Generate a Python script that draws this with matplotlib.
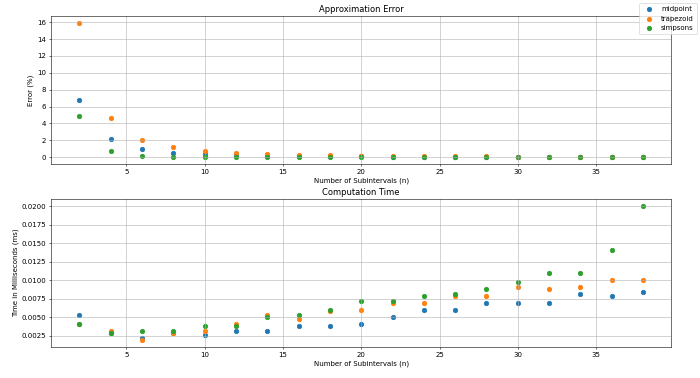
import matplotlib
import matplotlib.pyplot as plt

matplotlib.use('Agg')

n_vals = [2, 4, 6, 8, 10, 12, 14, 16, 18, 20, 22, 24, 26, 28, 30, 32, 34, 36, 38]

# approximation error (%)
err_midpoint = [6.8, 2.15, 1.0, 0.55, 0.35, 0.25, 0.18, 0.14, 0.11, 0.09, 0.075,
                0.065, 0.055, 0.048, 0.042, 0.037, 0.033, 0.03, 0.027]
err_trapezoid = [15.95, 4.6, 2.1, 1.2, 0.75, 0.52, 0.38, 0.29, 0.23, 0.19, 0.16,
                 0.13, 0.11, 0.095, 0.085, 0.075, 0.066, 0.06, 0.053]
err_simpsons = [4.9, 0.75, 0.2, 0.05, 0.02, 0.01, 0.005, 0.003, 0.002, 0.001,
                0.001, 0.0005, 0.0005, 0.0003, 0.0003, 0.0002, 0.0002, 0.0001, 0.0001]

# computation time (ms)
time_midpoint = [0.00528, 0.0029, 0.00219, 0.0029, 0.00263, 0.00313, 0.00313,
                 0.00384, 0.00384, 0.00411, 0.00505, 0.00599, 0.00599, 0.00693,
                 0.00693, 0.00693, 0.00814, 0.00787, 0.00836]
time_trapezoid = [0.0041, 0.00317, 0.00192, 0.00286, 0.00313, 0.00407, 0.00528,
                  0.00478, 0.0059, 0.00599, 0.00693, 0.00693, 0.00787, 0.00787,
                  0.00908, 0.00886, 0.00908, 0.01006, 0.01006]
time_simpsons = [0.00407, 0.00286, 0.00313, 0.00317, 0.00384, 0.00384, 0.00501,
                 0.00528, 0.00599, 0.00716, 0.00716, 0.00787, 0.00814, 0.00886,
                 0.0098, 0.0110, 0.0110, 0.0141, 0.02005]

labels = ['midpoint', 'trapezoid', 'simpsons']

fig, (ax1, ax2) = plt.subplots(2, 1, figsize=(14, 7.56), dpi=50)
fig.subplots_adjust(left=0.073, right=0.959, top=0.958, bottom=0.082,
                    hspace=0.236)

for ys, lab in zip([err_midpoint, err_trapezoid, err_simpsons], labels):
    ax1.scatter(n_vals, ys, label=lab, s=42)
ax1.set_title('Approximation Error')
ax1.set_xlabel('Number of Subintervals (n)')
ax1.set_ylabel('Error (%)')
ax1.grid(True)

for ys, lab in zip([time_midpoint, time_trapezoid, time_simpsons], labels):
    ax2.scatter(n_vals, ys, label=lab, s=42)
ax2.set_title('Computation Time')
ax2.set_xlabel('Number of Subintervals (n)')
ax2.set_ylabel('Time in Milliseconds (ms)')
ax2.grid(True)

handles, lbls = ax1.get_legend_handles_labels()
fig.legend(handles, lbls, loc='upper right')

plt.savefig('out.png', dpi=50)
